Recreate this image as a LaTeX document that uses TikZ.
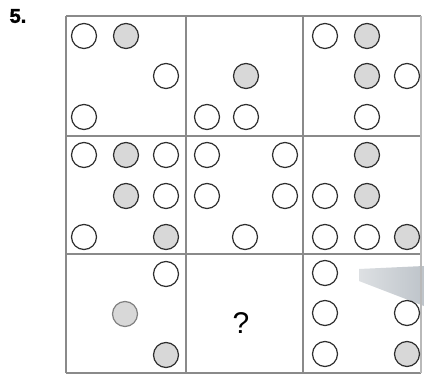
\documentclass[tikz,border=0pt]{standalone}
\usepackage{fontspec}
\setmainfont{Liberation Sans}
\newfontfamily\heavyfont{Liberation Sans}[UprightFont=* Bold, FakeBold=2]
\definecolor{gridc}{HTML}{8A8A8A}
\definecolor{ringc}{HTML}{2E2E2E}
\definecolor{fillg}{HTML}{D8D8D8}
\definecolor{wedgeL}{HTML}{DDE0E3}
\definecolor{wedgeR}{HTML}{BEC4CA}
\tikzset{
  dot/.style={circle,minimum size=25pt,inner sep=0pt,line width=1.2pt,draw=ringc},
  wc/.style={dot,fill=white},
  gc/.style={dot,fill=fillg},
  gridline/.style={draw=gridc,line width=1.4pt}
}
\begin{document}
\begin{tikzpicture}[x=1pt,y=-1pt]
\useasboundingbox[fill=white] (0,0) rectangle (424,375);
% label
\node[font=\heavyfont\fontsize{20}{20}\selectfont,inner sep=0pt] (lbl) at (18,16) {5.};
% scan artifact wedge
\shade[left color=wedgeL,right color=wedgeR] (359,269) -- (424,266) -- (424,306) -- (359,281) -- cycle;
% grid
\draw[gridline] (66,16) -- (421,16);
\draw[gridline] (66,136) -- (421,136);
\draw[gridline] (66,254) -- (421,254);
\draw[gridline] (66,373) -- (421,373);
\draw[gridline] (66,16) -- (66,373);
\draw[gridline] (186,16) -- (186,373);
\draw[gridline] (303,16) -- (303,373);
\draw[draw=gridc!60,line width=1.2pt] (421,16) -- (421,373);
% cell 1
\node[wc] (a1) at (84,36) {};
\node[gc] (a2) at (126,36) {};
\node[wc] (a3) at (166,76) {};
\node[wc] (a4) at (84,117) {};
% cell 2
\node[gc] (b1) at (246,76) {};
\node[wc] (b2) at (207,117) {};
\node[wc] (b3) at (246,117) {};
% cell 3
\node[wc] (c1) at (325,36) {};
\node[gc] (c2) at (367,36) {};
\node[gc] (c3) at (367,76) {};
\node[wc] (c4) at (407,76) {};
\node[wc] (c5) at (367,117) {};
% cell 4
\node[wc] (d1) at (84,155) {};
\node[gc] (d2) at (126,155) {};
\node[wc] (d3) at (166,155) {};
\node[gc] (d4) at (126,196) {};
\node[wc] (d5) at (166,196) {};
\node[wc] (d6) at (84,237) {};
\node[gc] (d7) at (166,237) {};
% cell 5
\node[wc] (e1) at (207,155) {};
\node[wc] (e2) at (285,155) {};
\node[wc] (e3) at (207,196) {};
\node[wc] (e4) at (285,196) {};
\node[wc] (e5) at (245,237) {};
% cell 6
\node[gc] (f1) at (367,155) {};
\node[wc] (f2) at (325,196) {};
\node[gc] (f3) at (367,196) {};
\node[wc] (f4) at (325,237) {};
\node[wc] (f5) at (367,237) {};
\node[gc] (f6) at (407,237) {};
% cell 7
\node[wc] (g1) at (166,274) {};
\node[gc,draw=gray] (g2) at (125,314) {};
\node[gc] (g3) at (166,355) {};
% cell 8
\node[font=\fontsize{30}{30}\selectfont,inner sep=0pt] (q) at (241,323) {?};
% cell 9
\node[wc] (h1) at (325,273) {};
\node[wc] (h2) at (325,313) {};
\node[wc] (h3) at (325,354) {};
\node[wc] (h4) at (407,313) {};
\node[gc] (h5) at (407,354) {};
\end{tikzpicture}
\end{document}
